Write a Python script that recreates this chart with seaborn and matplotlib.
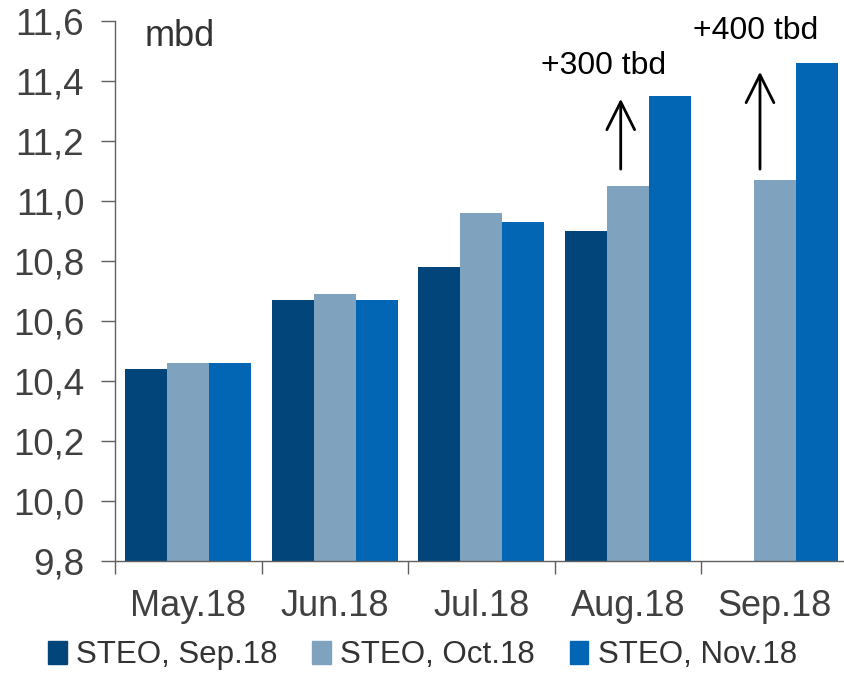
import numpy as np
import pandas as pd
import matplotlib
matplotlib.use("Agg")
import matplotlib.pyplot as plt
import seaborn as sns
from matplotlib.patches import Rectangle

months = ["May.18", "Jun.18", "Jul.18", "Aug.18", "Sep.18"]
series_names = ["STEO, Sep.18", "STEO, Oct.18", "STEO, Nov.18"]
steo_sep = [10.44, 10.67, 10.78, 10.90, np.nan]
steo_oct = [10.46, 10.69, 10.96, 11.05, 11.07]
steo_nov = [10.46, 10.67, 10.93, 11.35, 11.46]
y_ticks = [9.8, 10.0, 10.2, 10.4, 10.6, 10.8, 11.0, 11.2, 11.4, 11.6]
revisions = ["+300 tbd", "+400 tbd"]
colors = ["#01457A", "#7FA3BF", "#0266B4"]

df = pd.DataFrame({
    "month": months * 3,
    "series": np.repeat(series_names, len(months)),
    "value": steo_sep + steo_oct + steo_nov,
})

sns.set_theme(style="white")
plt.rcParams["font.family"] = ["Liberation Sans", "DejaVu Sans"]

fig = plt.figure(figsize=(8.45, 6.73), dpi=100)
ax = fig.add_axes([0.136, 0.1664, 0.8675, 0.8024])

sns.barplot(data=df, x="month", y="value", hue="series", order=months,
            hue_order=series_names, palette=colors, width=0.86, gap=0,
            saturation=1, legend=False, ax=ax, linewidth=0)

ax.set_ylim(9.8, 11.6)
ax.set_xlim(-0.5, len(months) - 0.5)
ax.set_yticks(y_ticks)
ax.set_yticklabels([f"{v:.1f}".replace(".", ",") for v in y_ticks])
ax.set_xlabel("")
ax.set_ylabel("")

# category labels centred, tick marks on the category boundaries
ax.set_xticks(range(len(months)))
ax.set_xticklabels(months)
ax.set_xticks(np.arange(-0.5, len(months)), minor=True)
ax.tick_params(axis="x", which="major", length=0, pad=20, labelsize=26,
               labelcolor="#404040")
ax.tick_params(axis="x", which="minor", length=9, width=1, color="#606060",
               direction="out", bottom=True)
ax.tick_params(axis="y", length=10, width=1, color="#606060", direction="out",
               left=True, pad=12, labelsize=26.5, labelcolor="#404040")

for side in ["top", "right"]:
    ax.spines[side].set_visible(False)
for side in ["left", "bottom"]:
    ax.spines[side].set_color("#606060")
    ax.spines[side].set_linewidth(1)

ax.text(0.04, 0.972, "mbd", transform=ax.transAxes, fontsize=26,
        color="#333333", va="center", ha="left")

# revision arrows above the Oct.18 estimates
for idx, label, tip, ty in [(3, revisions[0], 11.35, 11.45),
                            (4, revisions[1], 11.44, 11.567)]:
    x0 = idx - 0.05 if idx == 3 else idx - 0.1
    ax.annotate("", xy=(x0, tip), xytext=(x0, 11.097),
                arrowprops=dict(arrowstyle="->,head_length=0.5,head_width=0.25",
                                color="black", lw=2, mutation_scale=40))
    ax.text(idx - 0.17 if idx == 3 else idx - 0.13, ty, label, fontsize=23,
            color="black", ha="center", va="center")

handles = [Rectangle((0, 0), 1, 1, color=c) for c in colors]
fig.legend(handles, series_names, loc="lower center", ncol=3,
           bbox_to_anchor=(0.5, -0.038), frameon=False, fontsize=22.5,
           handlelength=0.6, handleheight=0.75, handletextpad=0.3,
           columnspacing=1.1, labelcolor="#333333")

fig.savefig("out.png", dpi=100)
